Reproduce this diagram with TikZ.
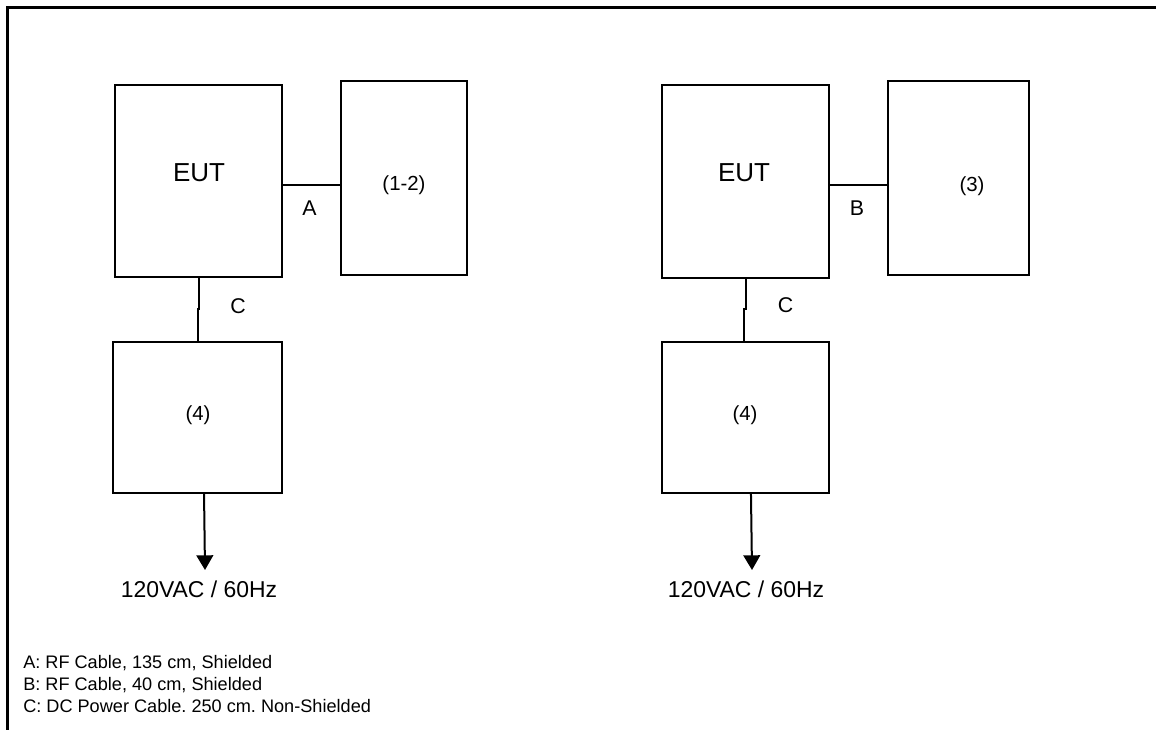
\documentclass[tikz,border=0pt]{standalone}
\usepackage{fontspec}
\setmainfont{Liberation Sans}
\usetikzlibrary{arrows.meta}
\frenchspacing
\begin{document}
\begin{tikzpicture}[x=0.75pt,y=-0.75pt,
  box/.style={draw=black,line width=1.5pt,rectangle,inner sep=0pt},
  cable/.style={draw=black,line width=1.5pt},
  arr/.style={draw=black,line width=1.5pt,-{Triangle[width=12.5pt,length=11pt]}},
  big/.style={font=\fontsize{19.5}{23}\selectfont},
  lab/.style={font=\fontsize{16}{19}\selectfont},
  volt/.style={font=\fontsize{17.2}{20}\selectfont,anchor=base},
  small/.style={font=\fontsize{15.3}{18}\selectfont},
  leg/.style={font=\fontsize{13.6}{16}\selectfont,anchor=base west,inner sep=0pt}]
\useasboundingbox (0,0) rectangle (1156,730);
\draw[line width=2.25pt] (1156,8) -- (7,8) -- (7,730);
% left group
\node[box,minimum width=167*0.75pt,minimum height=192*0.75pt] (eutL) at (198.5,181) {};
\node[big] (eutLt) at (199,173) {EUT};
\node[box,minimum width=126*0.75pt,minimum height=194*0.75pt] (b12) at (404,178) {};
\node[small] (b12t) at (404,185) {(1-2)};
\node[box,minimum width=169*0.75pt,minimum height=151*0.75pt] (b4L) at (197.5,417.5) {};
\node[small] (b4Lt) at (198,415) {(4)};
\coordinate (jL) at (0,309);
\draw[cable] ([yshift=-3pt]eutL.east) -- ([yshift=-3pt]eutL.east -| b12.west);
\node[lab] (lA) at (309.5,208) {A};
\draw[cable] ([xshift=0.4pt]eutL.south) -- ([xshift=0.4pt]eutL.south |- jL) -- (b4L.north |- jL) -- (b4L.north);
\node[lab] (lCL) at (238,306) {C};
\coordinate (pL) at (205,570);
\draw[arr] ([xshift=4.9pt]b4L.south) -- (pL);
\node[volt] (vL) at (199,597) {120VAC / 60Hz};
% right group
\node[box,minimum width=167*0.75pt,minimum height=193*0.75pt] (eutR) at (745.5,181.5) {};
\node[big] (eutRt) at (744,173) {EUT};
\node[box,minimum width=141*0.75pt,minimum height=194*0.75pt] (b3) at (958.5,178) {};
\node[small] (b3t) at (972,186) {(3)};
\node[box,minimum width=167*0.75pt,minimum height=151*0.75pt] (b4R) at (745.5,417.5) {};
\node[small] (b4Rt) at (745,415) {(4)};
\coordinate (jR) at (0,309);
\draw[cable] ([yshift=-3pt]eutR.east) -- ([yshift=-3pt]eutR.east -| b3.west);
\node[lab] (lB) at (857,208) {B};
\draw[cable] (eutR.south) -- (eutR.south |- jR) -- ([xshift=-0.9pt]b4R.north |- jR) -- ([xshift=-0.9pt]b4R.north);
\node[lab] (lCR) at (785.5,305) {C};
\coordinate (pR) at (752,570);
\draw[arr] ([xshift=4.1pt]b4R.south) -- (pR);
\node[volt] (vR) at (746,597) {120VAC / 60Hz};
% legend
\node[leg] (legA) at (23,668) {A: RF Cable, 135 cm, Shielded};
\node[leg] (legB) at (23,690) {B: RF Cable, 40 cm, Shielded};
\node[leg] (legC) at (23,712) {C: DC Power Cable. 250 cm. Non-Shielded};
\end{tikzpicture}
\end{document}
